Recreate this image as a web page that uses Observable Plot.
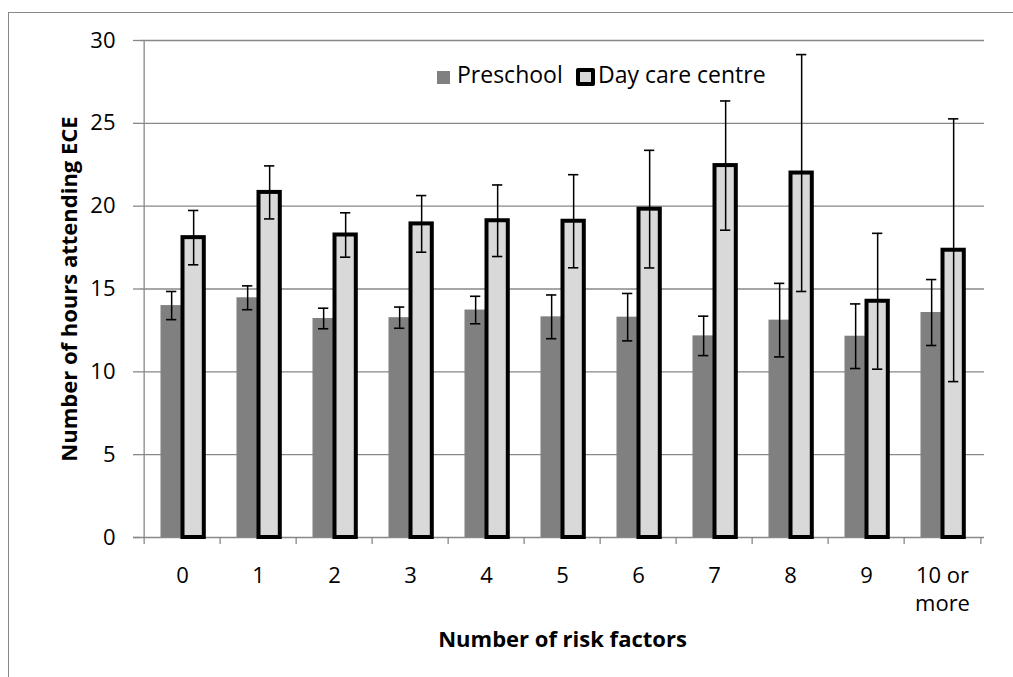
<!DOCTYPE html>
<html>
<head>
<meta charset="utf-8">
<script src="https://cdn.jsdelivr.net/npm/d3@7"></script>
<script src="https://cdn.jsdelivr.net/npm/@observablehq/plot@0.6"></script>
<style>
  html, body { margin: 0; padding: 0; background: #fff; }
  #wrap { position: relative; width: 1013px; height: 677px; overflow: hidden; font-family: "Open Sans", sans-serif; }
  #border { position: absolute; left: 8px; top: 12px; width: 1100px; height: 800px; border-top: 1px solid #888; border-left: 1px solid #888; }
  #chart { position: absolute; left: 0; top: 0; }
  .lg-sw { position: absolute; box-sizing: border-box; }
  .lg-tx { position: absolute; font-size: 23px; line-height: 23px; color: #000; white-space: nowrap; }
</style>
</head>
<body>
<div id="wrap">
  <div id="border"></div>
  <div id="chart"></div>
  <div id="legend"></div>
</div>
<script>
// ---- data ----
const categories = ["0", "1", "2", "3", "4", "5", "6", "7", "8", "9", "10 or more"];
const tickLabels = ["0", "1", "2", "3", "4", "5", "6", "7", "8", "9", "10 or\nmore"];
const preschool    = [14.0, 14.47, 13.22, 13.27, 13.73, 13.32, 13.30, 12.17, 13.12, 12.15, 13.58];
const preschoolErr = [0.85, 0.72, 0.62, 0.64, 0.83, 1.32, 1.43, 1.19, 2.22, 1.95, 1.99];
const daycare      = [18.10, 20.83, 18.26, 18.93, 19.12, 19.09, 19.82, 22.45, 22.00, 14.26, 17.34];
const daycareErr   = [1.64, 1.60, 1.34, 1.71, 2.16, 2.81, 3.55, 3.90, 7.15, 4.10, 7.93];
const yTicks = [0, 5, 10, 15, 20, 25, 30];
const seriesNames = ["Preschool", "Day care centre"];
const yTitle = "Number of hours attending ECE";
const xTitle = "Number of risk factors";

// ---- table for the marks ----
const rows = categories.map((c, i) => ({
  cat: c,
  p: preschool[i], pLo: preschool[i] - preschoolErr[i], pHi: preschool[i] + preschoolErr[i],
  d: daycare[i], dLo: daycare[i] - daycareErr[i], dHi: daycare[i] + daycareErr[i]
}));

const W = 1013, H = 677;
const mL = 140, mR = 29, mT = 40, mB = 140;
const bw = (W - mL - mR) / categories.length;
const gridColor = "#888888";
const preColor = "#808080";
const dayColor = "#d9d9d9";
const labelMap = new Map(categories.map((c, i) => [c, tickLabels[i]]));

const chart = Plot.plot({
  width: W, height: H,
  marginLeft: mL, marginRight: mR, marginTop: mT, marginBottom: mB,
  style: { fontFamily: '"Open Sans", sans-serif', fontSize: "22px", color: "#000", background: "transparent", overflow: "visible" },
  x: { domain: categories, padding: 0, axis: null },
  y: { domain: [yTicks[0], yTicks[yTicks.length - 1]], axis: null },
  marks: [
    Plot.gridY(yTicks.slice(1), { stroke: gridColor, strokeOpacity: 1, strokeWidth: 1.3 }),
    // x-axis line
    Plot.ruleY([yTicks[0]], { stroke: gridColor, strokeWidth: 1.3, insetLeft: -7 }),
    // y-axis line
    Plot.ruleX([categories[0]], { dx: -bw / 2, y1: yTicks[0], y2: yTicks[yTicks.length - 1], stroke: gridColor, strokeWidth: 1.3 }),
    // x-axis tick marks at category boundaries
    Plot.ruleX(categories, { x: d => d, dx: -bw / 2, y1: yTicks[0], y2: yTicks[0], insetBottom: -7, stroke: gridColor, strokeWidth: 1.3 }),
    Plot.ruleX([categories[categories.length - 1]], { dx: bw / 2, y1: yTicks[0], y2: yTicks[0], insetBottom: -7, stroke: gridColor, strokeWidth: 1.3 }),
    // bars
    Plot.barY(rows, { x: "cat", y: "p", fill: preColor, insetLeft: 16.5, insetRight: 38.2 }),
    Plot.barY(rows, { x: "cat", y: "d", fill: dayColor, stroke: "#000", strokeWidth: 4, insetLeft: 38.5, insetRight: 16.2 }),
    // error bars
    Plot.ruleX(rows, { x: "cat", y1: "pLo", y2: "pHi", dx: -10.85, stroke: "#000", strokeWidth: 1.5 }),
    Plot.tickY(rows, { x: "cat", y: "pLo", insetLeft: 22, insetRight: 43.7, stroke: "#000", strokeWidth: 1.6 }),
    Plot.tickY(rows, { x: "cat", y: "pHi", insetLeft: 22, insetRight: 43.7, stroke: "#000", strokeWidth: 1.6 }),
    Plot.ruleX(rows, { x: "cat", y1: "dLo", y2: "dHi", dx: 11.15, stroke: "#000", strokeWidth: 1.5 }),
    Plot.tickY(rows, { x: "cat", y: "dLo", insetLeft: 44, insetRight: 21.7, stroke: "#000", strokeWidth: 1.6 }),
    Plot.tickY(rows, { x: "cat", y: "dHi", insetLeft: 44, insetRight: 21.7, stroke: "#000", strokeWidth: 1.6 }),
    // axes
    Plot.axisY(yTicks, { anchor: "left", tickSize: 7, tickPadding: 18, stroke: gridColor, strokeWidth: 1.3, fill: "#000", label: null, fontSize: 22 }),
    Plot.axisX(categories, { anchor: "bottom", tickSize: 0, tickPadding: 25, tickFormat: d => labelMap.get(d), lineHeight: 1.3, fill: "#000", label: null, fontSize: 22 }),
    // axis titles
    Plot.text([yTitle], { text: d => d, frameAnchor: "left", rotate: -90, dx: -64, lineAnchor: "bottom", textAnchor: "middle", fontWeight: "bold", fontSize: 22, fill: "#000" }),
    Plot.text([xTitle], { text: d => d, frameAnchor: "bottom", dy: 109, lineAnchor: "bottom", textAnchor: "middle", fontWeight: "bold", fontSize: 22, fill: "#000" })
  ]
});
document.getElementById("chart").appendChild(chart);

// ---- legend ----
const legend = document.getElementById("legend");
function addEl(cls, css, text) {
  const el = document.createElement("div");
  el.className = cls;
  Object.assign(el.style, css);
  if (text) el.textContent = text;
  legend.appendChild(el);
}
addEl("lg-sw", { left: "437px", top: "70.5px", width: "13px", height: "13px", background: preColor });
addEl("lg-tx", { left: "457px", top: "63px" }, seriesNames[0]);
addEl("lg-sw", { left: "576px", top: "68px", width: "19px", height: "18px", background: dayColor, border: "4px solid #000", borderRadius: "2px" });
addEl("lg-tx", { left: "598px", top: "63px" }, seriesNames[1]);
</script>
</body>
</html>
